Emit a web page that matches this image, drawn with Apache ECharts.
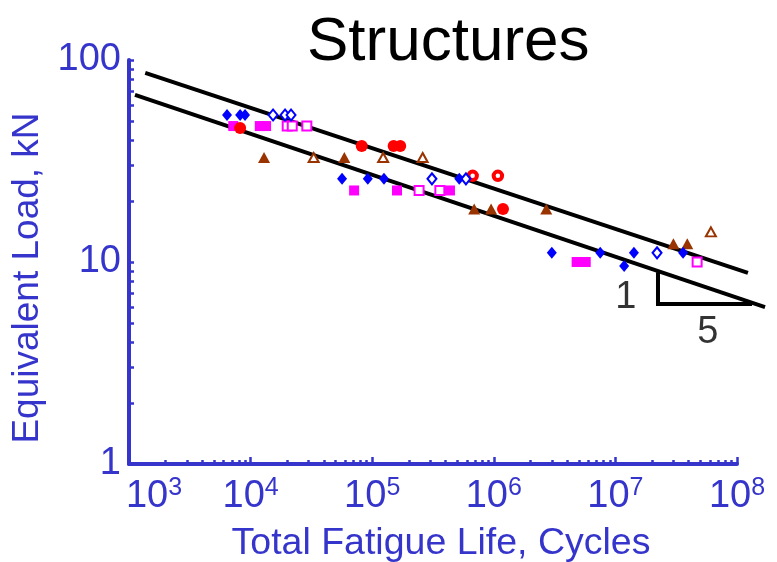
<!DOCTYPE html>
<html>
<head>
<meta charset="utf-8">
<script src="https://cdn.jsdelivr.net/npm/echarts@6/dist/echarts.min.js"></script>
<style>
  html, body { margin: 0; padding: 0; background: #ffffff; }
  #chart { width: 777px; height: 562px; }
</style>
</head>
<body>
<div id="chart"></div>
<script>
// ---- tick values ----
const xMajorTicks = [1e3, 1e4, 1e5, 1e6, 1e7, 1e8];
const yMajorTicks = [1, 10, 100];
const minorMultipliers = [2, 3, 4, 5, 6, 7, 8, 9];

// ---- data: [Total fatigue life (cycles), Equivalent load (kN)] ----
const blueFilledDiamonds = [[6.4e3, 53.4], [8.2e3, 53.4], [9.0e3, 53.4], [5.65e4, 25.8], [9.2e4, 25.8], [1.25e5, 25.8], [5.2e5, 25.8], [3.0e6, 11.1], [7.5e6, 11.1], [1.18e7, 9.55], [1.42e7, 11.1], [3.6e7, 11.1]];
const blueOpenDiamonds = [[1.53e4, 53.4], [1.92e4, 53.4], [2.15e4, 53.4], [3.1e5, 25.8], [5.9e5, 25.8], [2.2e7, 11.1]];
const magentaFilledSquares = [[7.2e3, 47.1], [1.19e4, 47.1], [1.34e4, 47.1], [7.1e4, 22.6], [1.6e5, 22.6], [4.36e5, 22.6], [4.8e6, 10.0], [5.7e6, 10.0]];
const magentaOpenSquares = [[2.0e4, 47.1], [2.2e4, 47.1], [2.9e4, 47.1], [2.43e5, 22.6], [3.6e5, 22.6], [4.7e7, 10.0]];
const redFilledCircles = [[8.2e3, 46.1], [8.2e4, 37.5], [1.5e5, 37.5], [1.7e5, 37.5], [1.19e6, 18.3]];
const redOpenCircles = [[6.7e5, 26.7], [1.08e6, 26.7]];
const brownFilledTriangles = [[1.29e4, 32.9], [5.9e4, 32.9], [6.9e5, 18.3], [9.5e5, 18.3], [2.7e6, 18.3], [3.0e7, 12.3], [3.9e7, 12.3]];
const brownOpenTriangles = [[3.3e4, 32.9], [1.23e5, 32.9], [2.6e5, 32.9], [6.1e7, 14.1]];

// ---- fit lines and slope triangle ----
const upperFitLine = [[1.36e3, 86.3], [1.23e8, 8.83]];
const lowerFitLine = [[1.12e3, 67.2], [1.7e8, 5.98]];
const slopeTriangle = [[2.24e7, 8.9], [2.24e7, 6.19], [1.33e8, 6.19]];
const slopeLabels = [[1.22e7, 6.64, '1'], [5.76e7, 4.46, '5']];

const AXIS_COLOR = '#3535cc';
const FONT = 'Liberation Sans, Arial, sans-serif';

function minorTicks(majors) {
  const out = [];
  for (let i = 0; i < majors.length - 1; i++) {
    minorMultipliers.forEach(m => out.push(majors[i] * m));
  }
  return out;
}

const chart = echarts.init(document.getElementById('chart'), null, { renderer: 'canvas' });

function scatter(name, data, symbol, size, fill, stroke, bw) {
  return {
    name: name, type: 'scatter', data: data, symbol: symbol, symbolSize: size,
    xAxisIndex: 0, yAxisIndex: 0, z: 5,
    itemStyle: { color: fill, borderColor: stroke, borderWidth: bw, opacity: 1 },
    emphasis: { disabled: true }
  };
}

// polyline drawn through the axes' own scales (api.coord), not clipped to the grid
function polyline(name, pts) {
  return {
    name: name, type: 'custom', clip: false, z: 3, silent: true,
    data: [pts.map(p => p[0]).concat(pts.map(p => p[1]))],
    encode: { x: [], y: [] },
    renderItem: function (params, api) {
      const n = pts.length;
      const points = [];
      for (let i = 0; i < n; i++) {
        points.push(api.coord([api.value(i), api.value(n + i)]));
      }
      return {
        type: 'polyline',
        shape: { points: points },
        style: { stroke: '#000000', lineWidth: 4, fill: null, lineJoin: 'miter' }
      };
    }
  };
}

const option = {
  animation: false,
  backgroundColor: '#ffffff',
  title: {
    text: 'Structures', left: 302, top: 7,
    textStyle: { fontFamily: FONT, fontSize: 62, fontWeight: 'normal', color: '#000000' }
  },
  grid: { left: 129, right: 40, top: 60, bottom: 98, containLabel: false, outerBoundsMode: 'none' },
  xAxis: [
    {
      type: 'log', logBase: 10, min: 1e3, max: 1e8, position: 'bottom',
      name: 'Total Fatigue Life, Cycles', nameLocation: 'middle', nameGap: 61,
      nameTextStyle: { fontFamily: FONT, fontSize: 37.5, color: AXIS_COLOR, padding: [0, 0, 0, 16] },
      axisLine: { show: true, lineStyle: { color: AXIS_COLOR, width: 4 } },
      axisTick: { show: true, inside: true, length: 7, customValues: xMajorTicks, lineStyle: { color: AXIS_COLOR, width: 2.5 } },
      axisLabel: {
        show: true, customValues: xMajorTicks, margin: 12, color: AXIS_COLOR, fontFamily: FONT,
        formatter: function (v) {
          const e = Math.round(Math.log10(v));
          return (e === 3 ? '{p|}' : '') + '{b|10}{s|' + e + '}';
        },
        rich: {
          b: { fontSize: 38, fontFamily: FONT, color: AXIS_COLOR, lineHeight: 40, verticalAlign: 'bottom' },
          s: { fontSize: 25, fontFamily: FONT, color: AXIS_COLOR, lineHeight: 40, verticalAlign: 'top' },
          p: { width: 50, fontSize: 10 }
        }
      },
      splitLine: { show: false }
    },
    {
      type: 'log', logBase: 10, min: 1e3, max: 1e8, position: 'bottom', gridIndex: 0,
      axisLine: { show: false },
      axisTick: { show: true, inside: true, length: 4, customValues: minorTicks(xMajorTicks), lineStyle: { color: AXIS_COLOR, width: 2.5 } },
      axisLabel: { show: false },
      splitLine: { show: false }
    }
  ],
  yAxis: [
    {
      type: 'log', logBase: 10, min: 1, max: 100, position: 'left',
      name: 'Equivalent Load, kN', nameLocation: 'middle', nameGap: 82,
      nameTextStyle: { fontFamily: FONT, fontSize: 37, color: AXIS_COLOR, padding: [0, 32, 0, 0] },
      axisLine: { show: true, lineStyle: { color: AXIS_COLOR, width: 4 } },
      axisTick: { show: true, inside: true, length: 5, customValues: yMajorTicks, lineStyle: { color: AXIS_COLOR, width: 2.5 } },
      axisLabel: {
        show: true, customValues: yMajorTicks, margin: 8, color: AXIS_COLOR, fontFamily: FONT, fontSize: 38,
        formatter: function (v) { return String(Math.round(v)); }
      },
      splitLine: { show: false }
    },
    {
      type: 'log', logBase: 10, min: 1, max: 100, position: 'left', gridIndex: 0,
      axisLine: { show: false },
      axisTick: { show: true, inside: true, length: 5, customValues: minorTicks(yMajorTicks), lineStyle: { color: AXIS_COLOR, width: 2.5 } },
      axisLabel: { show: false },
      splitLine: { show: false }
    }
  ],
  series: [
    polyline('upper', upperFitLine),
    polyline('lower', lowerFitLine),
    polyline('slope', slopeTriangle),
    {
      name: 'slopeText', type: 'scatter', symbolSize: 0, clip: false, z: 6,
      data: slopeLabels.map(d => ({ value: [d[0], d[1]], label: { formatter: d[2] } })),
      label: { show: true, position: 'inside', color: '#000000', fontFamily: FONT, fontSize: 38 },
      emphasis: { disabled: true }
    },
    scatter('magFilled', magentaFilledSquares, 'rect', 10, '#ff00ff', '#ff00ff', 0),
    scatter('magOpen', magentaOpenSquares, 'rect', 9, '#ffffff', '#ff00ff', 2),
    scatter('redFilled', redFilledCircles, 'circle', 12, '#ff0000', '#ff0000', 0),
    scatter('redOpen', redOpenCircles, 'circle', 8.5, '#ffffff', '#ff0000', 4),
    scatter('brownFilled', brownFilledTriangles, 'triangle', [12, 11], '#993300', '#993300', 0),
    scatter('brownOpen', brownOpenTriangles, 'triangle', [10, 9], '#ffffff', '#993300', 2),
    scatter('blueFilled', blueFilledDiamonds, 'diamond', [10, 12], '#0000ff', '#0000ff', 0),
    scatter('blueOpen', blueOpenDiamonds, 'diamond', [9, 11], '#ffffff', '#0000ff', 2)
  ]
};

chart.setOption(option);
</script>
</body>
</html>
